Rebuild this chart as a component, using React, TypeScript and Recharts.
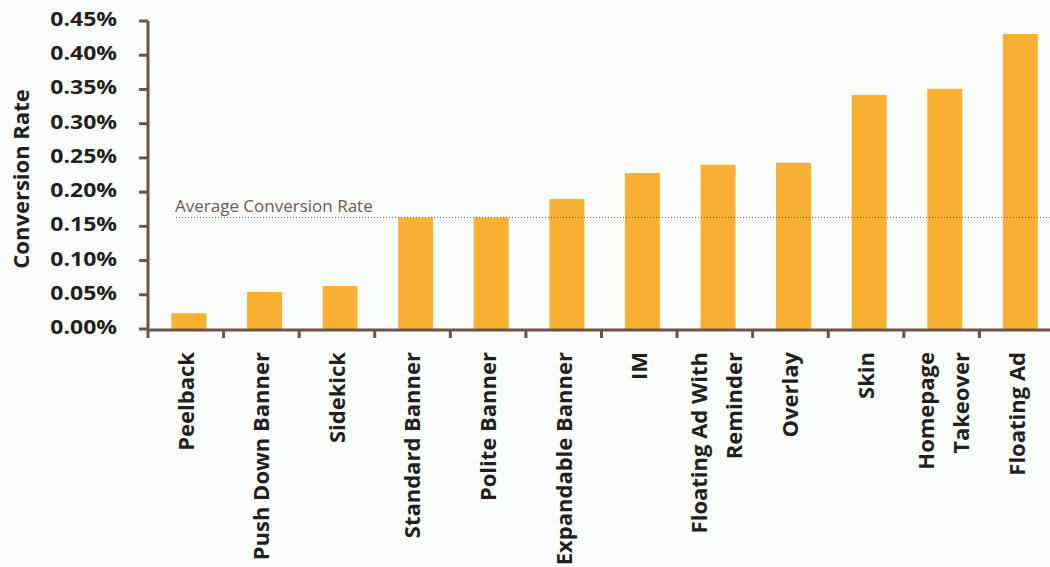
import React from 'react';
import { BarChart, Bar, XAxis, YAxis, ReferenceLine } from 'recharts';

const categories = [
  'Peelback',
  'Push Down Banner',
  'Sidekick',
  'Standard Banner',
  'Polite Banner',
  'Expandable Banner',
  'IM',
  'Floating Ad With Reminder',
  'Overlay',
  'Skin',
  'Homepage Takeover',
  'Floating Ad',
];

const tickLabelLines: string[][] = [
  ['Peelback'],
  ['Push Down Banner'],
  ['Sidekick'],
  ['Standard Banner'],
  ['Polite Banner'],
  ['Expandable Banner'],
  ['IM'],
  ['Floating Ad With', 'Reminder'],
  ['Overlay'],
  ['Skin'],
  ['Homepage', 'Takeover'],
  ['Floating Ad'],
];

const conversionRates = [0.023, 0.054, 0.063, 0.163, 0.163, 0.19, 0.228, 0.24, 0.243, 0.342, 0.351, 0.431];

const yTicks = [0, 0.05, 0.1, 0.15, 0.2, 0.25, 0.3, 0.35, 0.4, 0.45];
const boundaryTicks = [0, 1, 2, 3, 4, 5, 6, 7, 8, 9, 10, 11, 12];

const averageRate = 0.163;
const averageLabel = 'Average Conversion Rate';

const data = categories.map((c, i) => ({ name: c, value: conversionRates[i], idx: i + 0.5 }));

const AXIS = '#6b5548';
const TEXT = '#231f20';
const BAR = '#fab033';
const FONT = '"Open Sans", sans-serif';

const XTick = (props: any) => {
  const { x, y, payload } = props;
  const i = categories.indexOf(payload.value);
  const lines = tickLabelLines[i] || [payload.value];
  const offsets = lines.length === 1 ? [-3] : [-19, 16];
  return (
    <g>
      {lines.map((ln, k) => (
        <text
          key={k}
          x={0}
          y={0}
          transform={`translate(${x + offsets[k]},${y}) rotate(-90)`}
          textAnchor="end"
          dy="0.36em"
          fill={TEXT}
          fontSize={22}
          fontWeight={700}
          fontFamily={FONT}
        >
          {ln}
        </text>
      ))}
    </g>
  );
};

const YTick = (props: any) => {
  const { x, y, payload } = props;
  return (
    <text
      x={0}
      y={0}
      transform={`translate(${x},${y}) scale(1.15,1)`}
      textAnchor="end"
      dy="0.25em"
      fill={TEXT}
      fontSize={20}
      fontWeight={700}
      fontFamily={FONT}
    >
      {payload.value.toFixed(2) + '%'}
    </text>
  );
};

const YLabel = (props: any) => {
  const vb = props.viewBox || {};
  const cy = (vb.y || 0) + (vb.height || 0) / 2;
  return (
    <text
      x={0}
      y={0}
      transform={`translate(29,${cy + 4}) rotate(-90)`}
      textAnchor="middle"
      fill={TEXT}
      fontSize={22}
      fontWeight={700}
      fontFamily={FONT}
    >
      Conversion Rate
    </text>
  );
};

const AvgLine = (props: any) => {
  const { x1, y1, x2, y2 } = props;
  const sx = x1 + 28;
  return (
    <g>
      <line x1={sx} y1={y1} x2={x2} y2={y2} stroke={AXIS} strokeWidth={1} strokeDasharray="1 2" />
      <text x={sx - 1} y={y1 - 5} fill="#6b5a52" fontSize={17} fontFamily={FONT} fontWeight={400}>
        {averageLabel}
      </text>
    </g>
  );
};

export default function App() {
  return (
    <div style={{ position: 'absolute', left: 0, top: 0, width: 1050, height: 567, overflow: 'hidden', background: '#fbfdfc' }}>
      <BarChart
        width={1060}
        height={567}
        data={data}
        margin={{ top: 21, right: 5, bottom: 0, left: 0 }}
        barCategoryGap="27%"
      >
        <XAxis
          dataKey="idx"
          xAxisId="a_edge"
          type="number"
          domain={[0, 12]}
          ticks={boundaryTicks}
          interval={0}
          height={1}
          axisLine={false}
          tickLine={{ stroke: AXIS, strokeWidth: 3 }}
          tickSize={9}
          tickFormatter={() => ''}
          orientation="bottom"
        />
        <XAxis
          dataKey="name"
          xAxisId="b_cat"
          type="category"
          height={237}
          padding={{ left: 3, right: -3 }}
          axisLine={{ stroke: AXIS, strokeWidth: 3 }}
          tickLine={false}
          tickSize={0}
          tickMargin={22}
          interval={0}
          tick={<XTick />}
        />
        <YAxis
          width={148}
          domain={[0, 0.45]}
          ticks={yTicks}
          interval={0}
          axisLine={{ stroke: AXIS, strokeWidth: 3 }}
          tickLine={{ stroke: AXIS, strokeWidth: 3 }}
          tickSize={9}
          tickMargin={22}
          tick={<YTick />}
          label={<YLabel />}
        />
        <ReferenceLine xAxisId="b_cat" y={averageRate} shape={<AvgLine />} />
        <Bar xAxisId="b_cat" dataKey="value" fill={BAR} isAnimationActive={false} />
      </BarChart>
    </div>
  );
}
